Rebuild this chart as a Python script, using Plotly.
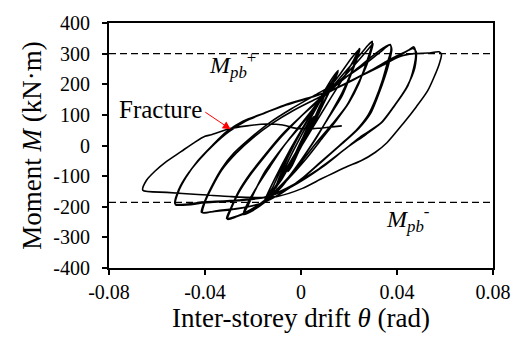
import plotly.graph_objects as go

# ---------------- data ----------------
# inter-storey drift theta (rad) and moment M (kN·m), loading stages in order
theta_s1 = [0.000, 0.003, 0.0055, 0.004, 0.001, -0.002, -0.0055, -0.004, -0.001, 0.002, 0.0055, 0.004, 0.000, -0.003, -0.0055, -0.003, 0.000]
moment_s1 = [0, 50, 95, 80, 30, -20, -85, -70, -20, 35, 95, 75, 10, -45, -85, -50, -5]

theta_s2 = [0.003, 0.007, 0.0105, 0.008, 0.003, -0.003, -0.0075, -0.0105, -0.008, -0.003, 0.002, 0.0065, 0.0105, 0.008, 0.002, -0.004, -0.0105, -0.008, -0.002]
moment_s2 = [40, 115, 175, 150, 85, 0, -75, -135, -110, -40, 30, 100, 178, 145, 60, -30, -140, -105, -30]

theta_s3 = [0.004, 0.009, 0.013, 0.0155, 0.013, 0.008, 0.002, -0.005, -0.011, -0.0155, -0.013, -0.008, -0.002, 0.005, 0.011, 0.0155, 0.013, 0.007, 0.000, -0.007, -0.012, -0.016, -0.013, -0.008]
moment_s3 = [50, 130, 195, 245, 220, 155, 75, -20, -110, -185, -160, -100, -20, 75, 165, 240, 210, 140, 45, -55, -140, -190, -165, -105]

theta_s4 = [-0.002, 0.005, 0.012, 0.018, 0.022, 0.0243,
            0.0235, 0.021, 0.017, 0.012, 0.006, -0.001, -0.008, -0.015, -0.020, -0.0238,
            -0.022, -0.019, -0.015, -0.010, -0.004, 0.003, 0.010, 0.016, 0.021, 0.0245,
            0.0238, 0.021, 0.017, 0.011, 0.005, -0.002, -0.009, -0.016, -0.021, -0.024]
moment_s4 = [-30, 60, 150, 225, 280, 317,
             300, 240, 170, 100, 20, -60, -135, -185, -212, -225,
             -195, -145, -85, -30, 30, 100, 170, 230, 285, 315,
             295, 235, 160, 85, 10, -70, -140, -190, -215, -223]

theta_s5 = [-0.022, -0.018, -0.013, -0.007, 0.000, 0.007, 0.014, 0.020, 0.025, 0.028, 0.0297,
            0.0293, 0.027, 0.024, 0.020, 0.015, 0.009, 0.002, -0.006, -0.014, -0.021, -0.027, -0.0306,
            -0.029, -0.026, -0.021, -0.015, -0.008, 0.000, 0.008, 0.016, 0.022, 0.027, 0.030,
            0.0295, 0.027, 0.023, 0.019, 0.013, 0.006, -0.001, -0.009, -0.017, -0.024, -0.029, -0.031]
moment_s5 = [-185, -130, -70, 0, 65, 135, 200, 255, 300, 328, 340,
             320, 265, 200, 140, 85, 25, -45, -115, -175, -212, -233, -241,
             -205, -155, -95, -35, 30, 95, 155, 210, 260, 305, 332,
             315, 255, 190, 130, 70, 5, -65, -135, -190, -222, -236, -238]

theta_s6 = [-0.029, -0.026, -0.021, -0.015, -0.008, 0.000, 0.008, 0.016, 0.024, 0.031, 0.035, 0.0372,
            0.0375, 0.036, 0.034, 0.031, 0.028, 0.023, 0.016, 0.008, 0.000, -0.008, -0.017, -0.027, -0.036, -0.0415,
            -0.040, -0.037, -0.033, -0.028, -0.021, -0.013, -0.004, 0.006, 0.016, 0.026, 0.033, 0.037,
            0.0378, 0.037, 0.035, 0.032, 0.029, 0.024, 0.017, 0.009, 0.001, -0.007, -0.016, -0.026, -0.035, -0.041]
moment_s6 = [-200, -150, -90, -30, 35, 95, 150, 205, 255, 300, 322, 330,
             312, 270, 215, 150, 100, 50, 0, -55, -110, -155, -190, -207, -215, -218,
             -180, -130, -75, -25, 25, 75, 120, 165, 210, 262, 305, 328,
             315, 280, 225, 160, 105, 55, 5, -50, -105, -150, -188, -205, -213, -220]

theta_s7 = [-0.040, -0.037, -0.033, -0.027, -0.020, -0.012, -0.003, 0.007, 0.018, 0.029, 0.038, 0.044, 0.0467,
            0.048, 0.0474, 0.044, 0.0385, 0.0331, 0.025, 0.0182, 0.0073, -0.0062, -0.015, -0.026, -0.040, -0.0525,
            -0.051, -0.0476, -0.0422, -0.036, -0.030, -0.023, -0.0157, -0.0062, 0.0046, 0.012, 0.022, 0.032, 0.040, 0.045, 0.047,
            0.0478, 0.047, 0.0445, 0.039, 0.034, 0.027, 0.019, 0.009, -0.004, -0.014, -0.026, -0.040, -0.0523]
moment_s7 = [-185, -135, -80, -25, 25, 72, 115, 155, 200, 245, 285, 308, 317,
             306, 253, 190, 126, 72, 30, -13, -77, -140, -168, -178, -184, -190,
             -145, -98, -45, 5, 45, 80, 104, 132, 158, 178, 215, 255, 288, 312, 322,
             300, 255, 195, 130, 78, 36, -8, -70, -135, -168, -180, -187, -193]

theta_s8 = [-0.051, -0.048, -0.043, -0.037, -0.031, -0.024, -0.016, -0.006, 0.005, 0.013, 0.023, 0.033, 0.041, 0.047, 0.053, 0.0575,
            0.0585, 0.0575, 0.0528, 0.048, 0.0426, 0.0358, 0.031, 0.025, 0.0195, 0.014, 0.0087, 0.0006, -0.0103, -0.018, -0.029, -0.043, -0.056, -0.0659]
moment_s8 = [-150, -105, -50, 0, 45, 80, 104, 135, 160, 182, 220, 258, 290, 300, 302, 306,
             298, 264, 179, 126, 72, 9, -22, -50, -68, -88, -108, -140, -167, -170, -167, -160, -153, -146]

theta_frac = [-0.0645, -0.061, -0.056, -0.050, -0.044, -0.040, -0.0374, -0.0306, -0.0225, -0.0144, -0.0076, -0.002, 0.005, 0.012, 0.017]
moment_frac = [-115, -85, -52, -20, 12, 30, 35, 53, 64, 70, 67, 56, 55, 60, 64]

m_pb_pos = 300
m_pb_neg = -186

x_ticks = [-0.08, -0.04, 0, 0.04, 0.08]
x_tick_text = ["-0.08", "-0.04", "0", "0.04", "0.08"]
y_ticks = [-400, -300, -200, -100, 0, 100, 200, 300, 400]
y_tick_text = ["-400", "-300", "-200", "-100", "0", "100", "200", "300", "400"]

# ---------------- figure ----------------
theta_all = theta_s1 + theta_s2 + theta_s3 + theta_s4 + theta_s5 + theta_s6 + theta_s7 + theta_s8 + theta_frac
moment_all = moment_s1 + moment_s2 + moment_s3 + moment_s4 + moment_s5 + moment_s6 + moment_s7 + moment_s8 + moment_frac

FONT = "Liberation Serif, serif"

fig = go.Figure()
for yv in (m_pb_pos, m_pb_neg):
    fig.add_trace(go.Scatter(x=[x_ticks[0], x_ticks[-1]], y=[yv, yv], mode="lines",
                             line=dict(color="black", width=1.3, dash="7px,4px"),
                             hoverinfo="skip", showlegend=False))
fig.add_trace(go.Scatter(x=theta_all, y=moment_all, mode="lines",
                         line=dict(color="black", width=1.6, shape="spline", smoothing=0.7),
                         showlegend=False))

fig.add_annotation(x=-0.0293, y=53, ax=-0.0405, ay=112, xref="x", yref="y", axref="x", ayref="y",
                   text="", showarrow=True, arrowhead=2, arrowsize=1.6, arrowwidth=1, arrowcolor="red")
fig.add_annotation(x=-0.0405, y=118, xref="x", yref="y", text="Fracture", showarrow=False,
                   xanchor="right", yanchor="middle", font=dict(family=FONT, size=25, color="black"))
fig.add_annotation(x=-0.0390, y=262, xref="x", yref="y",
                   text="<i>M</i><sub><i>pb</i></sub><sup>+</sup>", showarrow=False,
                   xanchor="left", yanchor="middle", font=dict(family=FONT, size=24, color="black"))
fig.add_annotation(x=0.0345, y=-240, xref="x", yref="y",
                   text="<i>M</i><sub><i>pb</i></sub><sup>-</sup>", showarrow=False,
                   xanchor="left", yanchor="middle", font=dict(family=FONT, size=24, color="black"))

fig.update_layout(
    width=523, height=343,
    margin=dict(l=109, r=21, t=17, b=75),
    paper_bgcolor="white", plot_bgcolor="white",
    font=dict(family=FONT, color="black"),
)
fig.update_xaxes(range=[-0.08, 0.08], tickvals=x_ticks, ticktext=x_tick_text,
                 showgrid=False, zeroline=False, showline=True, linecolor="black", linewidth=2,
                 mirror=True, ticks="outside", ticklen=5, tickwidth=1.5, tickcolor="black",
                 tickfont=dict(family=FONT, size=20, color="black"),
                 title=dict(text="Inter-storey drift <i>θ</i> (rad)", font=dict(family=FONT, size=27), standoff=3))
fig.update_yaxes(range=[-400, 400], tickvals=y_ticks, ticktext=y_tick_text,
                 showgrid=False, zeroline=False, showline=True, linecolor="black", linewidth=2,
                 mirror=True, ticks="outside", ticklen=5, tickwidth=1.5, tickcolor="black",
                 tickfont=dict(family=FONT, size=20, color="black"), ticklabelstandoff=8,
                 title=dict(text="Moment <i>M</i> (kN·m)", font=dict(family=FONT, size=27), standoff=4))

fig.write_html("out.html")
